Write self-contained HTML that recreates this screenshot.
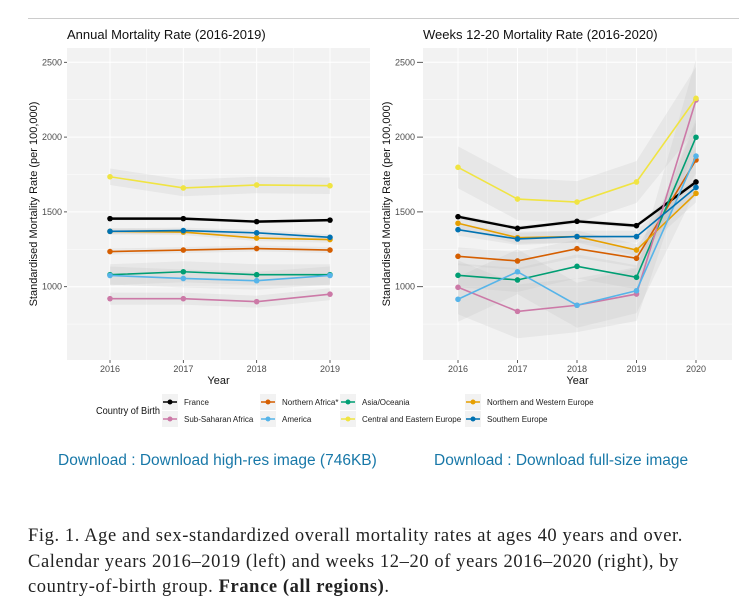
<!DOCTYPE html>
<html><head><meta charset="utf-8">
<style>
body{margin:0;background:#fff;width:739px;height:612px;overflow:hidden;position:relative;font-family:"Liberation Sans",sans-serif}
.dl{position:absolute;top:452px;font-size:15.5px;color:#1878a8}
.cap{position:absolute;left:28px;top:524px;font-family:"Liberation Serif",serif;font-size:18.5px;letter-spacing:0.6px;line-height:25.5px;color:#222;white-space:nowrap}
</style></head>
<body>
<svg id="chart" width="739" height="440" style="position:absolute;left:0;top:0" font-family="Liberation Sans, sans-serif"></svg>
<div class="dl" style="left:58px">Download : Download high-res image (746KB)</div>
<div class="dl" style="left:434px">Download : Download full-size image</div>
<div class="cap">Fig. 1. Age and sex-standardized overall mortality rates at ages 40 years and over.<br>Calendar years 2016–2019 (left) and weeks 12–20 of years 2016–2020 (right), by<br>country-of-birth group. <b>France (all regions)</b>.</div>
<script>
const seriesNames=["France","Northern Africa*","Asia/Oceania","Northern and Western Europe","Sub-Saharan Africa","America","Central and Eastern Europe","Southern Europe"];
const seriesColors=["#000000","#D55E00","#009E73","#E69F00","#CC79A7","#56B4E9","#F0E442","#0072B2"];
const leftYears=[2016,2017,2018,2019];
const rightYears=[2016,2017,2018,2019,2020];
const yTicks=[1000,1500,2000,2500];
const leftFrance=[1455,1455,1435,1445];
const leftNAfrica=[1235,1245,1255,1245];
const leftAsia=[1080,1100,1080,1080];
const leftNWEurope=[1370,1365,1325,1315];
const leftSubSaharan=[920,920,900,950];
const leftAmerica=[1075,1055,1040,1075];
const leftCEEurope=[1735,1660,1680,1675];
const leftSEurope=[1370,1375,1360,1330];
const leftCI=[10,20,70,20,40,60,55,20];
const rightFrance=[1468,1390,1437,1408,1700];
const rightNAfrica=[1203,1172,1254,1190,1847];
const rightAsia=[1076,1045,1136,1063,1999];
const rightNWEurope=[1424,1328,1335,1245,1624];
const rightSubSaharan=[996,835,876,951,2248];
const rightAmerica=[916,1100,876,973,1873];
const rightCEEurope=[1798,1586,1566,1700,2259];
const rightSEurope=[1381,1319,1335,1335,1664];
const rightCI=[15,60,80,40,180,150,140,40];
const leftData=[leftFrance,leftNAfrica,leftAsia,leftNWEurope,leftSubSaharan,leftAmerica,leftCEEurope,leftSEurope];
const rightData=[rightFrance,rightNAfrica,rightAsia,rightNWEurope,rightSubSaharan,rightAmerica,rightCEEurope,rightSEurope];
const NS="http://www.w3.org/2000/svg";
const svg=document.getElementById('chart');
function mk(t,a,p){const e=document.createElementNS(NS,t);for(const k in a)e.setAttribute(k,a[k]);(p||svg).appendChild(e);return e;}
const yScale=v=>286.7-(v-1000)*0.1496;
mk('line',{x1:28,y1:18.5,x2:739,y2:18.5,stroke:'#ccc','stroke-width':1});
function panel(px0,px1,x0,dx,years,data,ci,title,tickX,ytitleX,name){
  const g=mk('g',{});
  
  
  const xs=i=>x0+i*dx;
  mk('rect',{x:px0,y:48,width:px1-px0,height:312,fill:'#f2f2f2'},g);
  for(let v=750;v<=2500;v+=250){mk('line',{x1:px0,x2:px1,y1:yScale(v),y2:yScale(v),stroke:'#fff','stroke-width':v%500==0?1:0.5},g);}
  for(let i=0;i<years.length;i++){mk('line',{x1:xs(i),x2:xs(i),y1:48,y2:360,stroke:'#fff','stroke-width':1},g);}
  for(let i=0;i<years.length-1;i++){mk('line',{x1:xs(i)+dx/2,x2:xs(i)+dx/2,y1:48,y2:360,stroke:'#fff','stroke-width':0.5},g);}
  yTicks.forEach(v=>{
    const t=mk('text',{x:tickX,y:yScale(v)+3,'text-anchor':'end','font-size':9,fill:'#4d4d4d'},g);t.textContent=v;
    
    
    mk('line',{x1:tickX+2,x2:px0,y1:yScale(v),y2:yScale(v),stroke:'#333','stroke-width':0.8},g);
  });
  years.forEach((yr,i)=>{
    const t=mk('text',{x:xs(i),y:372,'text-anchor':'middle','font-size':9,fill:'#4d4d4d'},g);t.textContent=yr;
    
    
    mk('line',{x1:xs(i),x2:xs(i),y1:360,y2:363,stroke:'#333','stroke-width':0.8},g);
  });
  const xt=mk('text',{x:(px0+px1)/2,y:384,'text-anchor':'middle','font-size':11,fill:'#111'},g);xt.textContent='Year';
  
  
  const yt=mk('text',{x:0,y:0,'text-anchor':'middle','font-size':11,fill:'#111',transform:`translate(${ytitleX},204) rotate(-90)`},g);yt.textContent='Standardised Mortality Rate (per 100,000)';
  
  
  const tt=mk('text',{x:px0,y:39,'font-size':13,fill:'#111'},g);tt.textContent=title;
  
  
  data.forEach((s,k)=>{
    const up=s.map((v,i)=>xs(i)+','+yScale(v+ci[k]*(i==s.length-1&&years.length==5?1.5:1)));
    const lo=s.map((v,i)=>xs(i)+','+yScale(v-ci[k]*(i==s.length-1&&years.length==5?1.5:1))).reverse();
    mk('polygon',{points:up.concat(lo).join(' '),fill:'#bdbdbd','fill-opacity':0.22},g);
  });
  data.forEach((s,k)=>{
    const pl=mk('polyline',{points:s.map((v,i)=>xs(i)+','+yScale(v)).join(' '),fill:'none',stroke:seriesColors[k],'stroke-width':k==0?2.4:1.6},g);
    
    
    s.forEach((v,i)=>{const c=mk('circle',{cx:xs(i),cy:yScale(v),r:2.8,fill:seriesColors[k]},g);
      
      });
  });
}
panel(67,370,110,73.33,leftYears,leftData,leftCI,'Annual Mortality Rate (2016-2019)',62,37,'left-panel');
panel(423,732,458,59.5,rightYears,rightData,rightCI,'Weeks 12-20 Mortality Rate (2016-2020)',415,390,'right-panel');
// legend
const lt=mk('text',{x:96,y:414,'font-size':10,fill:'#111',textLength:64,lengthAdjust:'spacingAndGlyphs'});lt.textContent='Country of Birth';


const order=[0,4,1,5,2,6,3,7];
const colX=[162,260,340,465];
order.forEach((k,j)=>{
  const col=Math.floor(j/2),row=j%2;const x=colX[col],y=402+row*17;
  const g=mk('g',{});
  
  
  mk('rect',{x:x,y:y-8,width:16,height:16,fill:'#f2f2f2'},g);
  mk('line',{x1:x+1,x2:x+15,y1:y,y2:y,stroke:seriesColors[k],'stroke-width':1.5},g);
  mk('circle',{cx:x+8,cy:y,r:2.5,fill:seriesColors[k]},g);
  const t=mk('text',{x:x+22,y:y+3,'font-size':8,fill:'#222'},g);t.textContent=seriesNames[k];
});
</script>
</body></html>
